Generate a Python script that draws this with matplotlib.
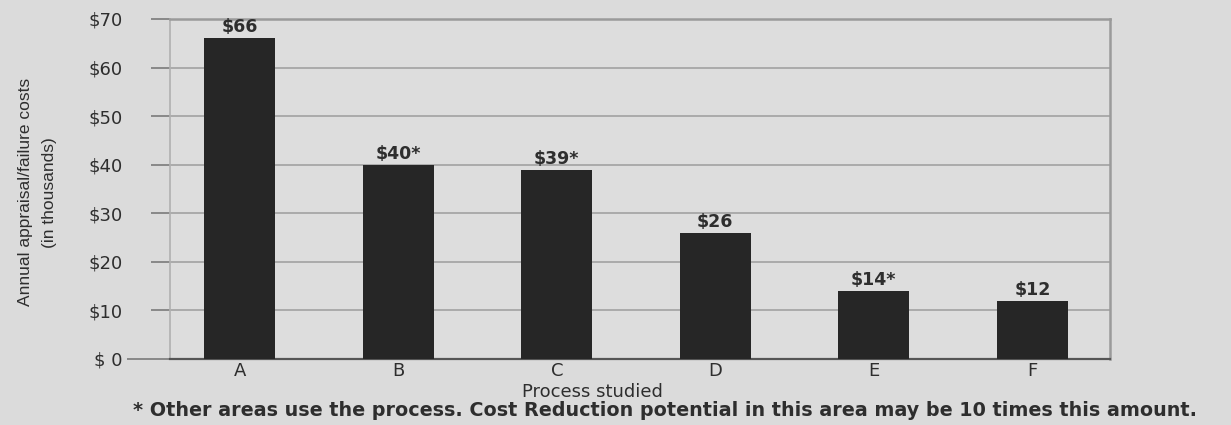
import matplotlib
matplotlib.use("Agg")
import matplotlib.pyplot as plt

categories = ["A", "B", "C", "D", "E", "F"]
values = [66, 40, 39, 26, 14, 12]
bar_labels = ["$66", "$40*", "$39*", "$26", "$14*", "$12"]
yticks = [0, 10, 20, 30, 40, 50, 60, 70]
ytick_labels = ["$ 0", "$10", "$20", "$30", "$40", "$50", "$60", "$70"]

plt.rcParams['font.family'] = ['DejaVu Sans']
TXT = "#2e2e2e"

fig = plt.figure(figsize=(12.31, 4.25), dpi=100, facecolor="#dbdbdb")
ax = fig.add_axes([170/1231, 1-359/425, (1110-170)/1231, (359-19)/425])
ax.set_facecolor("#dddddd")

x = list(range(len(categories)))
ax.bar(x, values, width=0.45, color="#262626", zorder=3)
for xi, v, lab in zip(x, values, bar_labels):
    ax.text(xi, v + 0.4, lab, ha="center", va="bottom", fontsize=12.5,
            fontweight="bold", color=TXT, zorder=4)

ax.set_xlim(-0.44, 5.49)
ax.set_ylim(0, 70)
ax.set_yticks(yticks)
ax.set_yticklabels(ytick_labels, fontsize=13, color=TXT)
ax.set_xticks(x)
ax.set_xticklabels(categories, fontsize=13, color=TXT)
ax.tick_params(axis="y", length=14, width=1.2, color="#7a7a7a", pad=20)
ax.tick_params(axis="x", length=0, pad=2)
# longer baseline tick at $0
ax.yaxis.get_major_ticks()[0].tick1line.set_markersize(31)
ax.yaxis.get_major_ticks()[0].tick1line.set_color("#555555")
ax.yaxis.grid(True, color="#a2a2a2", linewidth=1.2, zorder=0)
for s in ["top", "right"]:
    ax.spines[s].set_color("#9a9a9a")
    ax.spines[s].set_linewidth(1.8)
ax.spines["left"].set_color("#b0b0b0")
ax.spines["left"].set_linewidth(1.2)
ax.spines["bottom"].set_color("#555555")
ax.spines["bottom"].set_linewidth(1.6)

ax.set_ylabel("Annual appraisal/failure costs\n(in thousands)", fontsize=12.5,
              family="Liberation Sans", color=TXT, linespacing=1.75)
ax.yaxis.set_label_coords(-113/940, 0.49)

fig.text(592/1231, 1-392/425, "Process studied", ha="center", va="center",
         fontsize=13, color=TXT)

fig.text(665/1231, 1-411/425,
         "* Other areas use the process. Cost Reduction potential in this area may be 10 times this amount.",
         ha="center", va="center", fontsize=13.8, fontweight="bold", color=TXT)

fig.savefig("out.png", dpi=100, facecolor=fig.get_facecolor())
